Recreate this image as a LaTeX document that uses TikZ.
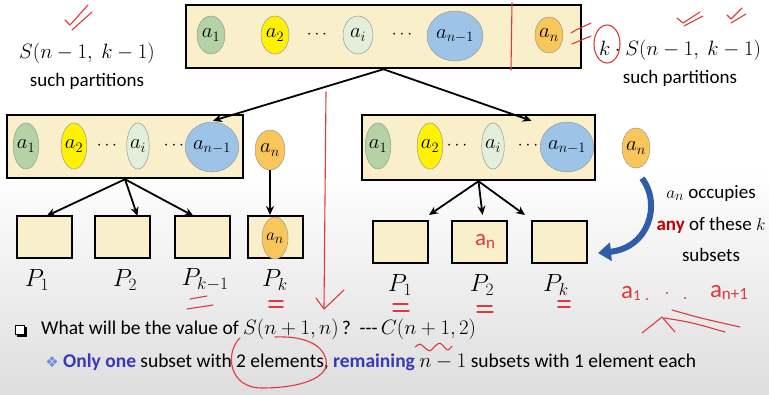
\documentclass[tikz,border=0pt]{standalone}
\usepackage[no-math]{fontspec}
\setmainfont{Carlito}
\newfontfamily\dejavu{DejaVu Sans}
\usetikzlibrary{shapes.geometric,arrows.meta,calc}
\definecolor{boxfill}{HTML}{FAEFCB}
\definecolor{cA}{HTML}{B4D2A6}
\definecolor{cB}{HTML}{FFF200}
\definecolor{cI}{HTML}{E2EFDA}
\definecolor{cN}{HTML}{9DC3E6}
\definecolor{cAn}{HTML}{F8C65A}
\definecolor{arrblue}{HTML}{2F5DA8}
\definecolor{txtblue}{HTML}{3838B8}
\definecolor{dmblue}{HTML}{6C8FD6}
\definecolor{anyred}{HTML}{C00000}
\definecolor{penred}{HTML}{E0393B}
\begin{document}
\begin{tikzpicture}[x=1pt,y=-1pt,
  bigbox/.style={draw=black, line width=2.5pt, fill=boxfill, inner sep=0pt},
  pbox/.style={draw=black, line width=2pt, fill=boxfill, minimum width=55pt, minimum height=42pt, inner sep=0pt},
  el/.style={ellipse, draw=black!40, line width=0.5pt, inner sep=0pt, font=\fontsize{21}{24}\selectfont},
  dots/.style={font=\fontsize{16}{18}\selectfont, inner sep=0pt},
  conn/.style={-{Stealth[length=9pt,width=8pt]}, line width=1.8pt},
  txt/.style={font=\fontsize{19}{22}\selectfont, inner sep=0pt},
  mtxt/.style={font=\fontsize{22}{26}\selectfont, inner sep=0pt},
  plab/.style={font=\fontsize{25}{28}\selectfont, inner sep=0pt},
  btxt/.style={font=\fontsize{19.5}{22}\selectfont, inner sep=0pt, anchor=west},
  pen/.style={draw=penred, line width=1.1pt, line cap=round, line join=round},
  pentxt/.style={text=penred, inner sep=0pt}
]
\useasboundingbox (0,0) rectangle (769,394);
\fill[white] (0,0) rectangle (769,394);
\shade[top color=white, bottom color={black!13}] (0,170) rectangle (769,394);

% top box
\node[bigbox, minimum width=395pt, minimum height=63pt] (top) at (383.5,36.5) {};
\node[el, fill=cA, minimum width=28pt, minimum height=38pt] (t1) at (211,35) {$a_1$};
\node[el, fill=cB, minimum width=28pt, minimum height=38pt] (t2) at (275,35) {$a_2$};
\node[dots] (td1) at (317,35) {$\cdots$};
\node[el, fill=cI, minimum width=30pt, minimum height=38pt] (ti) at (358,35) {$a_i$};
\node[dots] (td2) at (402,35) {$\cdots$};
\node[el, fill=cN, minimum width=56pt, minimum height=50pt] (tn1) at (455,36) {$a_{n-1}$};
\node[el, fill=cAn, minimum width=28pt, minimum height=36pt] (tn) at (549,35) {$a_n$};

% left and right texts
\node[mtxt] (lS) at (87,53) {$S(n-1,\ k-1)$};
\node[txt] (lsp) at (87,81) {such partitions};
\node[mtxt] (rS) at (680,50) {$k\cdot S(n-1,\ k-1)$};
\node[txt] (rsp) at (680,78) {such partitions};

% left box
\node[bigbox, minimum width=236pt, minimum height=63pt] (lb) at (125,146.5) {};
\node[el, fill=cA, minimum width=24pt, minimum height=46pt] (l1) at (26,146) {$a_1$};
\node[el, fill=cB, minimum width=20pt, minimum height=46pt] (l2) at (74,146) {$a_2$};
\node[dots] (ld1) at (107,146) {$\cdots$};
\node[el, fill=cI, minimum width=21pt, minimum height=46pt] (li) at (138,146) {$a_i$};
\node[dots] (ld2) at (174,146) {$\cdots$};
\node[el, fill=cN, minimum width=44pt, minimum height=50pt] (ln1) at (212,147) {$a_{n-1}$};
\node[el, fill=cAn, minimum width=30pt, minimum height=40pt] (lan) at (270,150) {$a_n$};

% right box
\node[bigbox, minimum width=233pt, minimum height=65pt] (rb) at (478.5,147.5) {};
\node[el, fill=cA, minimum width=24pt, minimum height=46pt] (r1) at (378,146) {$a_1$};
\node[el, fill=cB, minimum width=21pt, minimum height=46pt] (r2) at (430,146) {$a_2$};
\node[dots] (rd1) at (457,146) {$\cdots$};
\node[el, fill=cI, minimum width=21pt, minimum height=46pt] (ri) at (493,146) {$a_i$};
\node[dots] (rd2) at (528,146) {$\cdots$};
\node[el, fill=cN, minimum width=44pt, minimum height=50pt] (rn1) at (567,147) {$a_{n-1}$};
\node[el, fill=cAn, minimum width=28pt, minimum height=40pt] (ran) at (636,148) {$a_n$};

% arrows from top
\draw[conn] (top.south) -- ($(lb.north)+(88,7)$);
\draw[conn] (top.south) -- ($(rb.north)+(53,7)$);

% left partitions
\node[pbox] (P1) at (44.5,237) {};
\node[pbox] (P2) at (122.5,237) {};
\node[pbox] (Pk1) at (202.5,237) {};
\node[pbox] (Pk) at (275.5,237) {};
\node[el, fill=cAn, minimum width=26pt, minimum height=42pt, font=\fontsize{19}{20}\selectfont] (pan) at (275,238) {$a_n$};
\draw[conn] (lb.south) -- ($(P1.north)+(2,1)$);
\draw[conn] (lb.south) -- ($(P2.north)+(15,1)$);
\draw[conn] (lb.south) -- ($(Pk1.north)+(-9,1)$);
\draw[conn] (lan.south) -- (lan.south |- Pk.north);
\node[plab] (lp1) at (37,280) {$P_1$};
\node[plab] (lp2) at (125,280) {$P_2$};
\node[plab] (lpk1) at (205,280) {$P_{k-1}$};
\node[plab] (lpk) at (275,280) {$P_k$};

% right partitions
\node[pbox] (Q1) at (400.5,242) {};
\node[pbox] (Q2) at (479.5,242) {};
\node[pbox] (Qk) at (559.5,242) {};
\draw[conn] (rb.south) -- ($(Q1.north east)+(0,-5)$);
\draw[conn] (rb.south) -- ($(Q2.north)+(3,-5)$);
\draw[conn] (rb.south) -- ($(Qk.north west)+(-6,-5)$);
\node[plab] (rp1) at (400,285) {$P_1$};
\node[plab] (rp2) at (482,285) {$P_2$};
\node[plab] (rpk) at (556,285) {$P_k$};

% blue curved arrow
\draw[arrblue, line width=6pt, -{Triangle[length=13pt,width=18pt]}]
  ($(ran.south)+(6,10)$) .. controls (662,205) and (648,248) .. ($(Qk.east)+(10,11)$);

% right explanation
\node[txt] (occ) at (711,193) {$a_n$ occupies};
\node[txt] (anyt) at (711,225) {\textcolor{anyred}{\textbf{any}} of these $k$};
\node[txt] (subs) at (711,255) {subsets};

% bottom lines
\node[draw=black, line width=0.8pt, fill=white, minimum width=9pt, minimum height=9pt, inner sep=0pt] (sq) at (20,330) {};
\draw[line width=1.6pt] ($(sq.south west)+(1.5,1.2)$) -- ($(sq.south east)+(1.2,1.2)$) -- ($(sq.north east)+(1.2,1.5)$);
\node[btxt] (q) at (41,329) {What will be the value of $S(n+1,n)$\,?\ \ {-}{-}{-}\,$C(n+1,2)$};
\node[inner sep=0pt, text=dmblue, font=\dejavu\fontsize{15}{16}\selectfont] (dm) at (52,362) {❖};
\node[btxt] (ans) at (63,362) {\textcolor{txtblue}{\textbf{Only one}} subset with 2 elements, \textcolor{txtblue}{\textbf{remaining}} $n-1$ subsets with 1 element each};

% red handwriting
\draw[pen] (65,20) -- (70,25) -- (88,5);
\draw[pen] (72,30) -- (92,12);
\draw[pen] (512,3) -- (511,70);
\draw[pen] (571,33) -- (576,30) -- (591,23);
\draw[pen] (572,44) -- (591,36);
\draw[pen] (607,44) ellipse [x radius=13pt, y radius=19pt];
\draw[pen] (677,18) -- (683,23) -- (700,12);
\draw[pen] (684,26) -- (703,16);
\draw[pen] (727,15) -- (731,19) -- (742,8);
\draw[pen] (731,23) -- (746,14);
\draw[pen] (326,92) -- (324,308);
\draw[pen] (316,298) -- (324,309) -- (344,290);
\draw[pen] (190,299) -- (207,296);
\draw[pen] (187,309) -- (213,305);
\draw[pen, line width=1.6pt] (269,301) -- (283,301);
\draw[pen, line width=1.6pt] (269,307) -- (283,307);
\draw[pen] (393,304) -- (408,304);
\draw[pen] (393,311) -- (409,311);
\draw[pen] (477,306) -- (492,306);
\draw[pen] (477,312) -- (493,312);
\draw[pen, line width=1.6pt] (558,301) -- (570,301);
\draw[pen, line width=1.6pt] (558,307) -- (570,307);
\node[pentxt, font=\fontsize{23}{24}\selectfont] (han) at (485,241) {a\raisebox{-3pt}{\fontsize{17}{18}\selectfont n}};
\node[pentxt, font=\fontsize{25}{26}\selectfont] (ha1) at (631,293) {a\raisebox{-2pt}{\fontsize{15}{16}\selectfont 1}};
\fill[penred] (647,299) circle (1.1pt) (667,293) circle (1.1pt) (685,298) circle (1.1pt);
\node[pentxt, font=\fontsize{25}{26}\selectfont] (han1) at (729,292) {a\raisebox{-2pt}{\fontsize{17}{18}\selectfont n+1}};
\draw[pen] (642,333) -- (662,317) -- (675,332);
\draw[pen] (664,318) .. controls (690,322) .. (725,332);
\draw[pen] (672,310) .. controls (700,318) .. (740,327);
\draw[pen] (240,338) .. controls (225,352) and (228,388) .. (262,388) .. controls (300,388) and (330,378) .. (326,360) .. controls (322,342) and (300,336) .. (275,337);
\draw[pen] (415,347) .. controls (420,343) .. (425,348) .. controls (430,352) .. (435,346) .. controls (440,342) .. (445,348) .. controls (448,351) .. (452,346);
\end{tikzpicture}
\end{document}
